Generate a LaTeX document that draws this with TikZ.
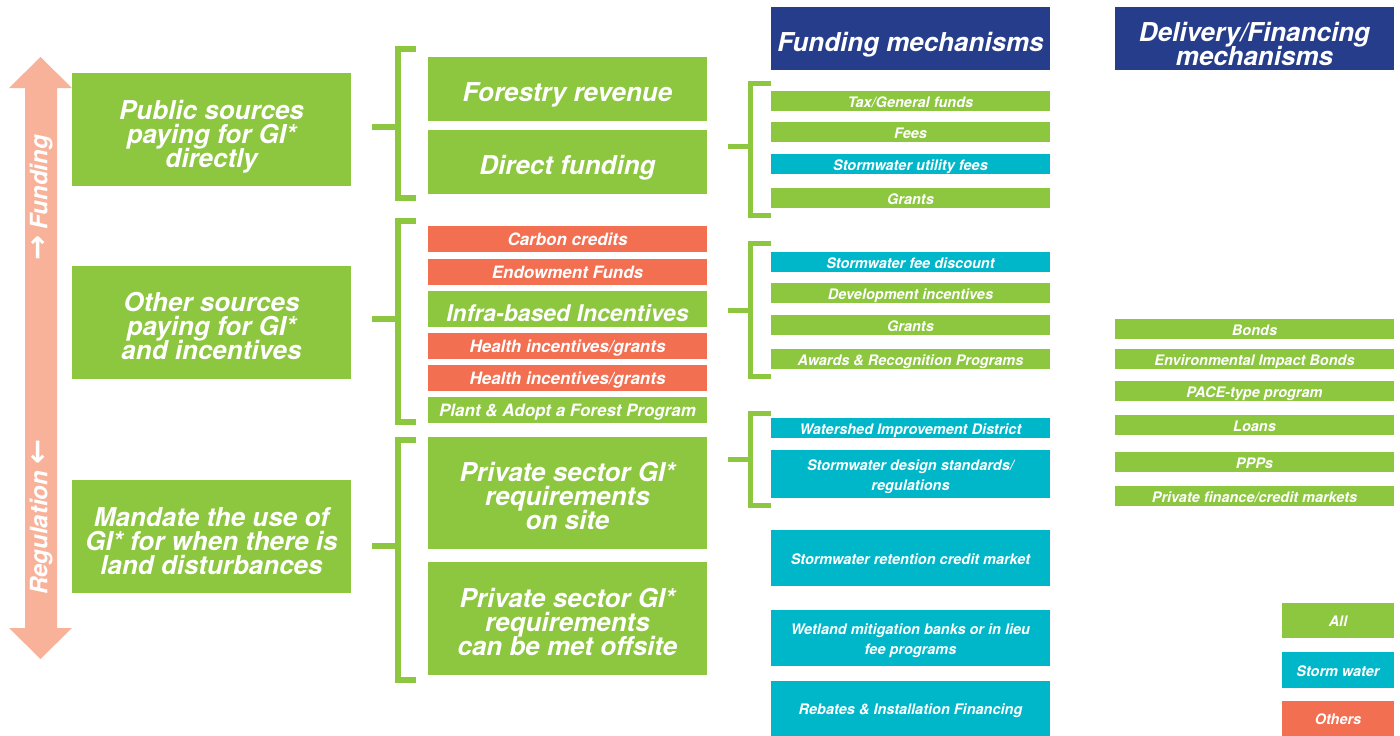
\documentclass[tikz,border=0pt]{standalone}
\usepackage{fontspec}
\setmainfont{TeX Gyre Heros}
\newfontfamily\symfont{DejaVu Sans}
\usepackage{tikz}
\usepackage{xcolor}
\usetikzlibrary{positioning}
\definecolor{allgreen}{HTML}{8DC63F}
\definecolor{stormcyan}{HTML}{00B7CA}
\definecolor{othersred}{HTML}{F26F52}
\definecolor{headblue}{HTML}{263D8C}
\definecolor{arrowpink}{HTML}{F8B29A}

% several lines, set a little below the middle of their box
\newcommand{\lowtext}[2][5pt]{\raisebox{-#1}[\height][\depth]{\begin{minipage}{279pt}\centering\lineskiplimit=-30pt #2\end{minipage}}}

\tikzset{
	box/.style={rectangle, inner sep=0pt, text=white, minimum width=279pt},
	allbox/.style={box, fill=allgreen},
	stormbox/.style={box, fill=stormcyan},
	otherbox/.style={box, fill=othersred},
	headbox/.style={box, fill=headblue, minimum height=63pt},
	big/.style={font=\bfseries\itshape\fontsize{26}{24}\selectfont},
	bigline/.style={big, text height=25pt, text depth=0pt},
	mid/.style={font=\bfseries\itshape\fontsize{17}{20}\selectfont, text height=13pt, text depth=0pt},
	small/.style={smallpar, text height=12pt, text depth=0pt},
	smallpar/.style={font=\bfseries\itshape\fontsize{14.5}{20}\selectfont},
	sidetext/.style={rotate=90, text=white, font=\bfseries\itshape\fontsize{24}{24}\selectfont},
	bracketline/.style={allgreen, line width=#1},
	bracketline/.default=6pt
}

\begin{document}
\begin{tikzpicture}[x=1pt,y=-1pt]
		\useasboundingbox (0,0) rectangle (1400,736);
		\newcommand{\giBracket}[7]{%
			\draw[bracketline=#7] (#2,#4) -- (#1,#4) -- (#1,#5) -- (#2,#5);
			\draw[bracketline=#7] (#3,#6) -- (#1,#6);}

		% funding / regulation arrow
		\fill[arrowpink] (40.5,57) -- (72,88) -- (57,88) -- (57,628) -- (72,628) -- (40.5,659)
			-- (9,628) -- (25,628) -- (25,88) -- (9,88) -- cycle;
		\node[sidetext] (fundlbl) at (41,198) {{\symfont\fontsize{30}{24}\selectfont →} Funding};
		\node[sidetext] (reglbl) at (41,517) {Regulation {\symfont\fontsize{30}{24}\selectfont ←}};

		% sources
		\node[allbox, big, minimum height=113pt] (pubsrc) at (211.5,129.5) {\lowtext[7.5pt]{Public sources\\paying for GI*\\directly}};
		\node[allbox, big, minimum height=113pt] (othsrc) at (211.5,322.5) {\lowtext[3pt]{Other sources\\paying for GI*\\and incentives}};
		\node[allbox, big, minimum height=113pt] (mandate) at (211.5,536.5) {\lowtext{Mandate the use of\\GI* for when there is\\land disturbances}};

		\giBracket{397.5}{416}{372}{49}{198}{127}{6pt}
		\giBracket{397.5}{416}{372}{221}{422}{319}{6pt}
		\giBracket{397.5}{416}{372}{440}{680}{546}{6pt}

		% instruments
		\node[allbox, bigline, minimum height=64pt] (forestry) at (567.5,89) {Forestry revenue};
		\node[allbox, bigline, minimum height=64pt] (direct) at (567.5,162) {Direct funding};
		\node[otherbox, mid, minimum height=26pt] (carbon) at (567.5,239) {Carbon credits};
		\node[otherbox, mid, minimum height=26pt] (endow) at (567.5,272) {Endowment Funds};
		\node[allbox, minimum height=36pt, font=\bfseries\itshape\fontsize{23}{24}\selectfont, text height=24pt, text depth=0pt] (infra) at (567.5,309) {Infra-based Incentives};
		\node[otherbox, mid, minimum height=26pt] (healthA) at (567.5,346) {Health incentives/grants};
		\node[otherbox, mid, minimum height=26pt] (healthB) at (567.5,378) {Health incentives/grants};
		\node[allbox, mid, minimum height=26pt] (plant) at (567.5,410) {Plant \& Adopt a Forest Program};
		\node[allbox, big, minimum height=112pt] (onsite) at (567.5,493) {\lowtext[3pt]{Private sector GI*\\requirements\\on site}};
		\node[allbox, big, minimum height=113pt] (offsite) at (567.5,618.5) {\lowtext[3pt]{Private sector GI*\\requirements\\can be met offsite}};

		% funding mechanisms
		\node[headbox, bigline, text height=26pt] (fundhead) at (910.5,38.5) {Funding mechanisms};
		\giBracket{750}{771}{728}{83}{215}{146}{5pt}
		\giBracket{750}{771}{728}{243}{376}{310}{5pt}
		\giBracket{750}{771}{728}{413}{505}{459}{5pt}
		\node[allbox, small, minimum height=20pt] (tax) at (910.5,101) {Tax/General funds};
		\node[allbox, small, minimum height=20pt] (fees) at (910.5,132) {Fees};
		\node[stormbox, small, minimum height=20pt] (utilfee) at (910.5,164) {Stormwater utility fees};
		\node[allbox, small, minimum height=20pt] (grantsA) at (910.5,198) {Grants};
		\node[stormbox, small, minimum height=20pt] (feedisc) at (910.5,262) {Stormwater fee discount};
		\node[allbox, small, minimum height=20pt] (devinc) at (910.5,293) {Development incentives};
		\node[allbox, small, minimum height=20pt] (grantsB) at (910.5,325) {Grants};
		\node[allbox, small, minimum height=20pt] (awards) at (910.5,359) {Awards \& Recognition Programs};
		\node[stormbox, small, minimum height=20pt] (wid) at (910.5,428) {Watershed Improvement District};
		\node[stormbox, smallpar, minimum height=48pt] (design) at (910.5,474) {\lowtext[3pt]{Stormwater design standards/\\regulations}};
		\node[stormbox, small, minimum height=56pt] (retention) at (910.5,558) {Stormwater retention credit market};
		\node[stormbox, smallpar, minimum height=56pt] (wetland) at (910.5,638) {\lowtext[3pt]{Wetland mitigation banks or in lieu\\fee programs}};
		\node[stormbox, small, minimum height=55pt] (rebates) at (910.5,708.5) {Rebates \& Installation Financing};

		% delivery / financing mechanisms
		\node[headbox, big] (delhead) at (1254.5,38.5) {\lowtext{Delivery/Financing\\mechanisms}};
		\node[allbox, small, minimum height=20pt] (bonds) at (1254.5,329) {Bonds};
		\node[allbox, small, minimum height=20pt] (eib) at (1254.5,359) {Environmental Impact Bonds};
		\node[allbox, small, minimum height=20pt] (pace) at (1254.5,391) {PACE-type program};
		\node[allbox, small, minimum height=20pt] (loans) at (1254.5,425) {Loans};
		\node[allbox, small, minimum height=20pt] (ppp) at (1254.5,462) {PPPs};
		\node[allbox, small, minimum height=20pt] (privfin) at (1254.5,496) {Private finance/credit markets};

		% legend
		\node[allbox, small, minimum width=112pt, minimum height=35pt] (keyall) at (1338,620.5) {All};
		\node[stormbox, small, minimum width=112pt, minimum height=36pt] (keystorm) at (1338,670) {Storm water};
		\node[otherbox, small, minimum width=112pt, minimum height=35pt] (keyother) at (1338,718.5) {Others};
	\end{tikzpicture}
\end{document}
